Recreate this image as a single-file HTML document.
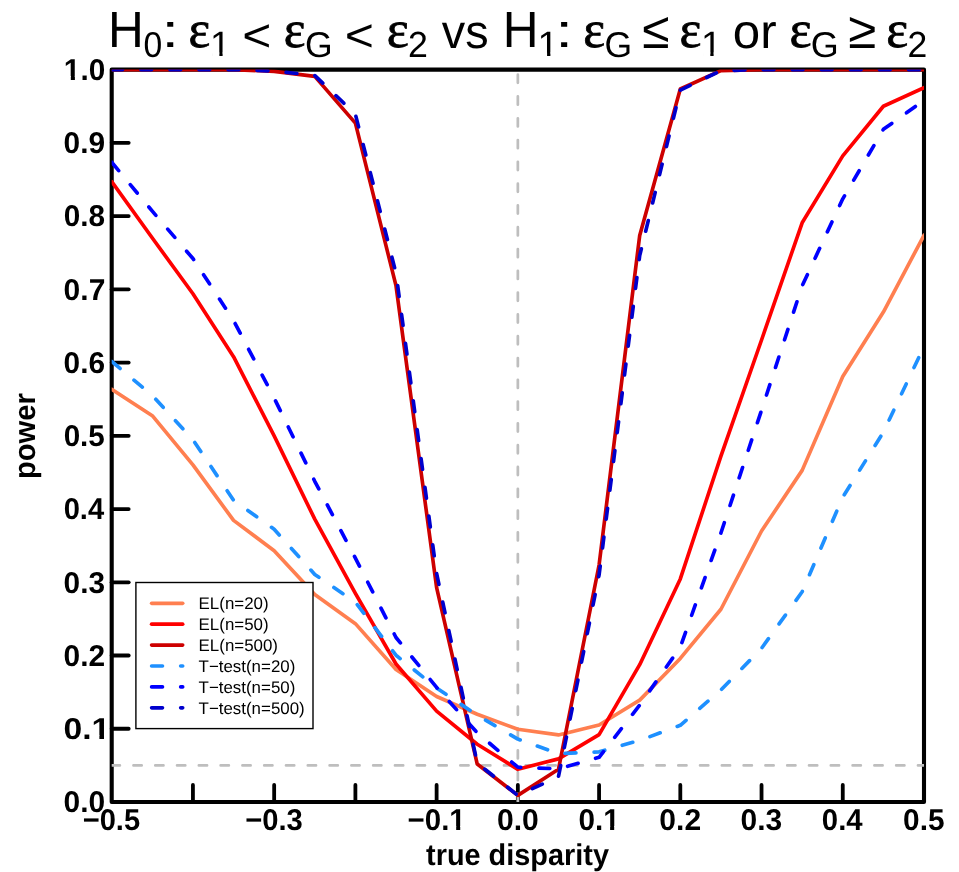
<!DOCTYPE html>
<html><head><meta charset="utf-8"><title>power</title>
<style>html,body{margin:0;padding:0;background:#fff;}svg{display:block;will-change:transform;}text{font-family:"Liberation Sans",sans-serif;fill:#000;font-kerning:none;text-rendering:geometricPrecision;}.b{font-weight:bold;}.s{font-family:"Liberation Serif",serif;}</style>
</head><body>
<svg width="959" height="872" viewBox="0 0 959 872">
<rect x="0" y="0" width="959" height="872" fill="#fff"/>
<defs><clipPath id="pc"><rect x="111.7" y="69.6" width="812.30" height="732.40"/></clipPath></defs>
<g fill="none" stroke="#000" stroke-linecap="round" stroke-linejoin="round">
<rect x="111.7" y="69.6" width="812.30" height="732.40" stroke-width="4.1"/>
<g stroke-width="3.8">
<line x1="192.93" y1="802.0" x2="192.93" y2="785.00"/>
<line x1="274.16" y1="802.0" x2="274.16" y2="785.00"/>
<line x1="355.39" y1="802.0" x2="355.39" y2="785.00"/>
<line x1="436.62" y1="802.0" x2="436.62" y2="785.00"/>
<line x1="517.85" y1="802.0" x2="517.85" y2="785.00"/>
<line x1="599.08" y1="802.0" x2="599.08" y2="785.00"/>
<line x1="680.31" y1="802.0" x2="680.31" y2="785.00"/>
<line x1="761.54" y1="802.0" x2="761.54" y2="785.00"/>
<line x1="842.77" y1="802.0" x2="842.77" y2="785.00"/>
<line x1="111.7" y1="728.76" x2="128.70" y2="728.76"/>
<line x1="111.7" y1="655.52" x2="128.70" y2="655.52"/>
<line x1="111.7" y1="582.28" x2="128.70" y2="582.28"/>
<line x1="111.7" y1="509.04" x2="128.70" y2="509.04"/>
<line x1="111.7" y1="435.80" x2="128.70" y2="435.80"/>
<line x1="111.7" y1="362.56" x2="128.70" y2="362.56"/>
<line x1="111.7" y1="289.32" x2="128.70" y2="289.32"/>
<line x1="111.7" y1="216.08" x2="128.70" y2="216.08"/>
<line x1="111.7" y1="142.84" x2="128.70" y2="142.84"/>
</g></g>
<g clip-path="url(#pc)" fill="none" stroke="#BEBEBE" stroke-width="2.724" stroke-linecap="round" stroke-dasharray="8.172 13.620">
<line x1="517.85" y1="802.0" x2="517.85" y2="69.6"/>
<line x1="111.7" y1="765.38" x2="924.0" y2="765.38"/>
</g>
<g clip-path="url(#pc)" fill="none" stroke-width="3.66" stroke-linecap="round" stroke-linejoin="round">
<polyline stroke="#FF7F50" points="111.70,389.22 152.31,415.66 192.93,464.88 233.55,520.39 274.16,550.71 314.77,594.58 355.39,623.66 396.00,669.58 436.62,696.53 477.23,714.26 517.85,729.27 558.47,734.91 599.08,724.95 639.70,700.12 680.31,658.45 720.92,609.23 761.54,531.01 802.15,470.37 842.77,376.48 883.38,312.10 924.00,235.27"/>
<polyline stroke="#FF0000" points="111.70,181.66 152.31,238.05 192.93,293.71 233.55,356.70 274.16,435.95 314.77,519.15 355.39,593.41 396.00,664.02 436.62,711.18 477.23,744.29 517.85,769.33 558.47,758.86 599.08,734.62 639.70,664.67 680.31,578.91 720.92,456.09 761.54,340.00 802.15,222.82 842.77,155.88 883.38,106.22 924.00,87.76"/>
<polyline stroke="#CD0000" points="111.70,69.60 152.31,69.60 192.93,69.60 233.55,69.60 274.16,71.43 314.77,76.41 355.39,123.14 396.00,285.66 436.62,587.63 477.23,764.06 517.85,795.41 558.47,769.33 599.08,565.00 639.70,235.42 680.31,89.01 720.92,70.63 761.54,69.60 802.15,69.60 842.77,69.60 883.38,69.60 924.00,69.60"/>
<g stroke-dasharray="10.902 18.170">
<polyline stroke="#1E90FF" points="111.70,361.46 152.31,395.52 192.93,439.68 233.55,500.25 274.16,529.25 314.77,574.44 355.39,602.20 396.00,655.23 436.62,687.97 477.23,715.21 517.85,739.09 558.47,753.66 599.08,751.83 639.70,740.41 680.31,725.32 720.92,689.94 761.54,648.34 802.15,591.80 842.77,497.18 883.38,432.14 924.00,346.45"/>
<polyline stroke="#0000FF" points="111.70,162.25 152.31,211.17 192.93,258.56 233.55,320.45 274.16,398.01 314.77,481.28 355.39,558.04 396.00,637.50 436.62,687.38 477.23,732.79 517.85,767.21 558.47,768.90 599.08,757.32 639.70,705.10 680.31,647.10 720.92,532.99 761.54,410.17 802.15,285.88 842.77,198.80 883.38,129.36 924.00,100.36"/>
<polyline stroke="#0000CD" points="111.70,69.60 152.31,69.60 192.93,69.60 233.55,69.60 274.16,71.06 314.77,75.46 355.39,114.28 396.00,273.21 436.62,573.56 477.23,763.18 517.85,795.41 558.47,776.59 599.08,574.96 639.70,255.63 680.31,90.11 720.92,70.63 761.54,69.60 802.15,69.60 842.77,69.60 883.38,69.60 924.00,69.60"/>
</g></g>
<rect x="135.9" y="582.5" width="177.10" height="146.10" fill="#fff" stroke="#000" stroke-width="1.4"/>
<g fill="none" stroke-width="3.66" stroke-linecap="round">
<line x1="151.6" y1="603.30" x2="182.7" y2="603.30" stroke="#FF7F50"/>
<line x1="151.6" y1="624.20" x2="182.7" y2="624.20" stroke="#FF0000"/>
<line x1="151.6" y1="645.10" x2="182.7" y2="645.10" stroke="#CD0000"/>
<line x1="151.6" y1="666.00" x2="182.7" y2="666.00" stroke="#1E90FF" stroke-dasharray="10.902 18.170"/>
<line x1="151.6" y1="686.90" x2="182.7" y2="686.90" stroke="#0000FF" stroke-dasharray="10.902 18.170"/>
<line x1="151.6" y1="707.80" x2="182.7" y2="707.80" stroke="#0000CD" stroke-dasharray="10.902 18.170"/>
</g>
<text x="198.6" y="609.25" font-size="16.9">EL(n=20)</text>
<text x="198.6" y="630.15" font-size="16.9">EL(n=50)</text>
<text x="198.6" y="651.05" font-size="16.9">EL(n=500)</text>
<text x="198.6" y="671.95" font-size="16.9">T−test(n=20)</text>
<text x="198.6" y="692.85" font-size="16.9">T−test(n=50)</text>
<text x="198.6" y="713.75" font-size="16.9">T−test(n=500)</text>
<text transform="translate(63.62,812.35) scale(0.9978,1.0000)" font-size="30.0" class="b">0.0</text>
<clipPath id="c1"><rect x="-30.00" y="-45.00" width="101.70" height="41.14"/><rect x="-30.00" y="-3.91" width="55.90" height="15.00"/><rect x="32.02" y="-3.91" width="4.12" height="15.00"/><rect x="41.46" y="-3.91" width="30.25" height="15.00"/></clipPath>
<text transform="translate(63.47,739.11) scale(1.1216,1.0000)" font-size="30.0" class="b" clip-path="url(#c1)">0.1</text>
<text transform="translate(63.62,665.87) scale(0.9970,1.0000)" font-size="30.0" class="b">0.2</text>
<text transform="translate(63.62,592.63) scale(0.9941,1.0000)" font-size="30.0" class="b">0.3</text>
<text transform="translate(63.65,519.39) scale(0.9713,1.0000)" font-size="30.0" class="b">0.4</text>
<text transform="translate(63.63,446.15) scale(0.9878,1.0000)" font-size="30.0" class="b">0.5</text>
<text transform="translate(63.62,372.91) scale(0.9941,1.0000)" font-size="30.0" class="b">0.6</text>
<text transform="translate(63.61,299.67) scale(1.0000,1.0000)" font-size="30.0" class="b">0.7</text>
<text transform="translate(63.63,226.43) scale(0.9900,1.0000)" font-size="30.0" class="b">0.8</text>
<text transform="translate(63.62,153.19) scale(0.9948,1.0000)" font-size="30.0" class="b">0.9</text>
<clipPath id="c2"><rect x="-30.00" y="-45.00" width="101.70" height="41.14"/><rect x="-30.00" y="-3.91" width="30.88" height="15.00"/><rect x="7.00" y="-3.91" width="4.12" height="15.00"/><rect x="16.44" y="-3.91" width="55.27" height="15.00"/></clipPath>
<text transform="translate(63.87,79.95) scale(0.9916,1.0000)" font-size="30.0" class="b" clip-path="url(#c2)">1.0</text>
<text transform="translate(82.69,829.90) scale(0.9695,1.0000)" font-size="30.0" class="b">−0.5</text>
<text transform="translate(245.15,829.90) scale(0.9737,1.0000)" font-size="30.0" class="b">−0.3</text>
<clipPath id="c3"><rect x="-30.00" y="-45.00" width="119.22" height="41.14"/><rect x="-30.00" y="-3.91" width="73.42" height="15.00"/><rect x="49.54" y="-3.91" width="4.12" height="15.00"/><rect x="58.97" y="-3.91" width="30.25" height="15.00"/></clipPath>
<text transform="translate(407.60,829.90) scale(0.9807,1.0000)" font-size="30.0" class="b" clip-path="url(#c3)">−0.1</text>
<text transform="translate(496.91,829.90) scale(1.0029,1.0000)" font-size="30.0" class="b">0.0</text>
<clipPath id="c4"><rect x="-30.00" y="-45.00" width="101.70" height="41.14"/><rect x="-30.00" y="-3.91" width="55.90" height="15.00"/><rect x="32.02" y="-3.91" width="4.12" height="15.00"/><rect x="41.46" y="-3.91" width="30.25" height="15.00"/></clipPath>
<text transform="translate(578.41,829.90) scale(0.9900,1.0000)" font-size="30.0" class="b" clip-path="url(#c4)">0.1</text>
<text transform="translate(659.37,829.90) scale(1.0021,1.0000)" font-size="30.0" class="b">0.2</text>
<text transform="translate(740.60,829.90) scale(0.9991,1.0000)" font-size="30.0" class="b">0.3</text>
<text transform="translate(821.86,829.90) scale(0.9763,1.0000)" font-size="30.0" class="b">0.4</text>
<text transform="translate(903.07,829.90) scale(0.9929,1.0000)" font-size="30.0" class="b">0.5</text>
<text transform="translate(426.05,864.70) scale(0.9624,1.0000)" font-size="30.0" class="b">true disparity</text>
<text transform="translate(35.20,479.02) rotate(-90) scale(0.9719,1.0000)" font-size="30.0" class="b">power</text>
<text transform="translate(108.03,47.40) scale(0.9775,1.0000)" font-size="50.73">H</text>
<text transform="translate(143.48,56.55) scale(0.9387,1.0000)" font-size="35.88">0</text>
<text transform="translate(161.45,47.40) scale(1.3317,1.0000)" font-size="47.32">:</text>
<text transform="translate(188.51,47.29) scale(0.9932,1.0000)" font-size="51.98" class="s" stroke="#000" stroke-width="0.8">ε</text>
<clipPath id="c5"><rect x="-35.18" y="-52.77" width="89.93" height="49.34"/><rect x="-35.18" y="-3.48" width="37.19" height="17.59"/><rect x="8.85" y="-3.48" width="3.11" height="17.59"/><rect x="18.53" y="-3.48" width="36.21" height="17.59"/></clipPath>
<text transform="translate(210.05,56.00) scale(1.0500,1.0000)" font-size="35.18" clip-path="url(#c5)">1</text>
<text transform="translate(242.34,51.24) scale(1.0902,1.0000)" font-size="45.69">&lt;</text>
<text transform="translate(283.81,47.29) scale(0.9932,1.0000)" font-size="51.98" class="s" stroke="#000" stroke-width="0.8">ε</text>
<text transform="translate(305.01,56.55) scale(0.9905,1.0000)" font-size="35.88">G</text>
<text transform="translate(344.83,51.24) scale(1.0947,1.0000)" font-size="45.69">&lt;</text>
<text transform="translate(386.68,47.29) scale(1.0096,1.0000)" font-size="51.98" class="s" stroke="#000" stroke-width="0.8">ε</text>
<text transform="translate(408.00,56.90) scale(0.9835,1.0000)" font-size="36.38">2</text>
<text transform="translate(441.74,47.54) scale(0.9845,1.0000)" font-size="47.59">vs</text>
<text transform="translate(502.73,47.40) scale(0.9775,1.0000)" font-size="50.73">H</text>
<clipPath id="c6"><rect x="-35.18" y="-52.77" width="89.93" height="49.34"/><rect x="-35.18" y="-3.48" width="37.19" height="17.59"/><rect x="8.85" y="-3.48" width="3.11" height="17.59"/><rect x="18.53" y="-3.48" width="36.21" height="17.59"/></clipPath>
<text transform="translate(537.57,56.00) scale(1.0733,1.0000)" font-size="35.18" clip-path="url(#c6)">1</text>
<text transform="translate(555.35,47.40) scale(1.3539,1.0000)" font-size="47.32">:</text>
<text transform="translate(583.30,47.29) scale(0.9986,1.0000)" font-size="51.98" class="s" stroke="#000" stroke-width="0.8">ε</text>
<text transform="translate(604.61,56.55) scale(0.9905,1.0000)" font-size="35.88">G</text>
<text transform="translate(642.27,47.90) scale(0.9608,1.0000)" font-size="51.74">≤</text>
<text transform="translate(679.40,47.29) scale(0.9986,1.0000)" font-size="51.98" class="s" stroke="#000" stroke-width="0.8">ε</text>
<clipPath id="c7"><rect x="-35.18" y="-52.77" width="89.93" height="49.34"/><rect x="-35.18" y="-3.48" width="37.19" height="17.59"/><rect x="8.85" y="-3.48" width="3.11" height="17.59"/><rect x="18.53" y="-3.48" width="36.21" height="17.59"/></clipPath>
<text transform="translate(700.91,56.00) scale(1.0616,1.0000)" font-size="35.18" clip-path="url(#c7)">1</text>
<text transform="translate(732.83,47.53) scale(1.0219,1.0000)" font-size="48.19">or</text>
<text transform="translate(789.38,47.29) scale(1.0096,1.0000)" font-size="51.98" class="s" stroke="#000" stroke-width="0.8">ε</text>
<text transform="translate(810.79,56.55) scale(1.0033,1.0000)" font-size="35.88">G</text>
<text transform="translate(848.18,47.90) scale(0.9866,1.0000)" font-size="51.74">≥</text>
<text transform="translate(886.19,47.29) scale(1.0041,1.0000)" font-size="51.98" class="s" stroke="#000" stroke-width="0.8">ε</text>
<text transform="translate(907.51,56.90) scale(0.9775,1.0000)" font-size="36.38">2</text>
</svg>
</body></html>
